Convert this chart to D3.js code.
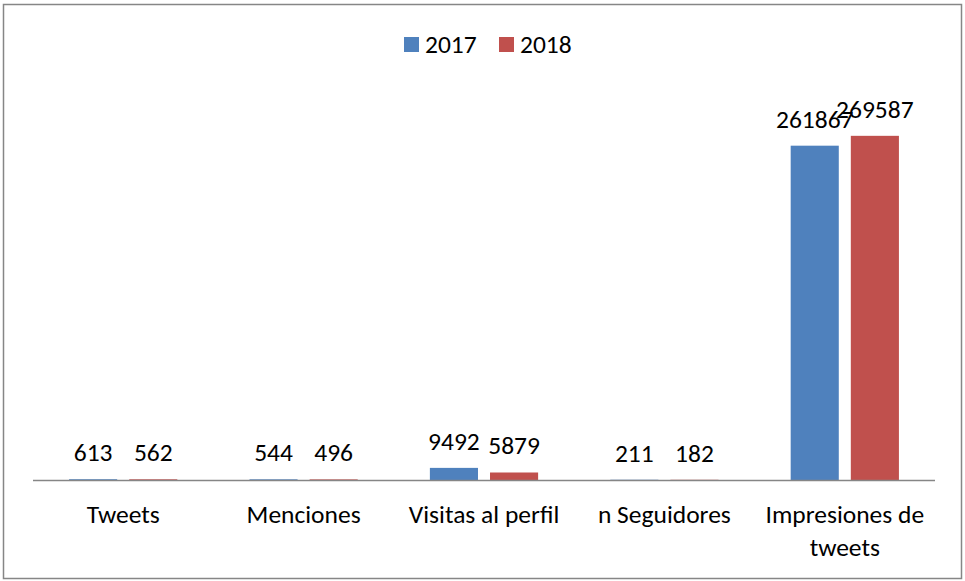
<!DOCTYPE html>
<html>
<head>
  <meta charset="utf-8">
  <script src="https://cdnjs.cloudflare.com/ajax/libs/d3/7.8.5/d3.min.js"></script>
  <title>Tweets 2017 vs 2018</title>
  <style>
    body { margin: 0; background: #fff; }
    text { font-family: Carlito, Calibri, "Open Sans", sans-serif; fill: #000; }
  </style>
</head>
<body>
<script>
// data
const categories = ["Tweets", "Menciones", "Visitas al perfil", "n Seguidores", "Impresiones de tweets"];
const series = ["2017", "2018"];
const values2017 = [613, 544, 9492, 211, 261867];
const values2018 = [562, 496, 5879, 182, 269587];
const colors = ["#4F81BD", "#C0504D"];

const W = 965, H = 581;
const svg = d3.select("body").append("svg")
    .attr("width", W)
    .attr("height", H);

// outer border
svg.append("rect")
    .attr("x", 3.5).attr("y", 4.5)
    .attr("width", 958).attr("height", 574)
    .attr("fill", "#fff")
    .attr("stroke", "#868686")
    .attr("stroke-width", 1.5);

const plot = {left: 33, right: 935, top: 97, bottom: 480};

const x0 = d3.scaleBand()
    .domain(categories)
    .range([plot.left, plot.right]);

const x1 = d3.scaleBand()
    .domain(series)
    .range([0, x0.bandwidth()])
    .paddingInner(0.2)
    .paddingOuter(0.6);

const y = d3.scaleLinear()
    .domain([0, 300000])
    .range([plot.bottom, plot.top]);

const rows = categories.map((c, i) => ({
  cat: c,
  vals: [values2017[i], values2018[i]]
}));

const groups = svg.selectAll("g.cat")
  .data(rows)
  .enter().append("g")
    .attr("class", "cat")
    .attr("transform", d => "translate(" + x0(d.cat) + ",0)");

groups.selectAll("rect")
  .data(d => d.vals.map((v, i) => ({s: series[i], v: v, i: i})))
  .enter().append("rect")
    .attr("x", d => x1(d.s))
    .attr("width", x1.bandwidth())
    .attr("y", d => y(d.v))
    .attr("height", d => y(0) - y(d.v))
    .attr("fill", d => colors[d.i]);

groups.selectAll("text.val")
  .data(d => d.vals.map((v, i) => ({s: series[i], v: v, i: i})))
  .enter().append("text")
    .attr("class", "val")
    .attr("x", d => x1(d.s) + x1.bandwidth() / 2)
    .attr("y", d => y(d.v) - 18)
    .attr("text-anchor", "middle")
    .style("font-size", "25.5px")
    .text(d => d.v);

// x axis line
svg.append("line")
    .attr("x1", plot.left).attr("x2", plot.right)
    .attr("y1", plot.bottom + 0.5).attr("y2", plot.bottom + 0.5)
    .attr("stroke", "#868686")
    .attr("stroke-width", 1.5);

// category labels, wrapped like the original
const catLines = {"Impresiones de tweets": ["Impresiones de", "tweets"]};
categories.forEach(c => {
  const lines = catLines[c] || [c];
  const t = svg.append("text")
      .attr("x", x0(c) + x0.bandwidth() / 2)
      .attr("y", 523)
      .attr("text-anchor", "middle")
      .style("font-size", "25.5px");
  lines.forEach((l, i) => {
    t.append("tspan")
        .attr("x", x0(c) + x0.bandwidth() / 2)
        .attr("dy", i ? 33 : 0)
        .text(l);
  });
});

// legend
const legend = svg.append("g").attr("transform", "translate(404,37)");
const lg = legend.selectAll("g")
  .data(series)
  .enter().append("g")
    .attr("transform", (d, i) => "translate(" + i * 95 + ",0)");
lg.append("rect")
    .attr("width", 15).attr("height", 15)
    .attr("fill", (d, i) => colors[i]);
lg.append("text")
    .attr("x", 21).attr("y", 16)
    .style("font-size", "25.5px")
    .text(d => d);
</script>
</body>
</html>
